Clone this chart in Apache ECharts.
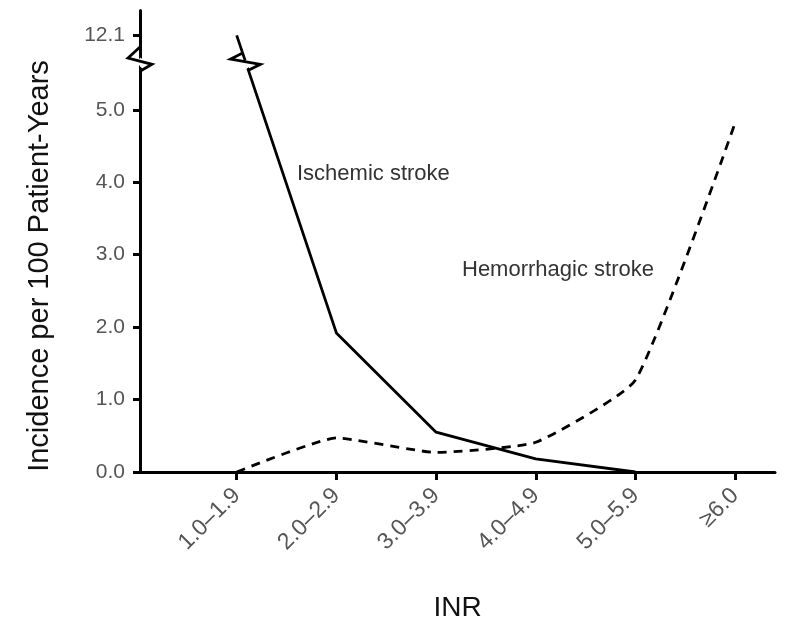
<!DOCTYPE html>
<html>
<head>
<meta charset="utf-8">
<script src="https://cdn.jsdelivr.net/npm/echarts@6/dist/echarts.min.js"></script>
<style>
  html, body { margin: 0; padding: 0; background: #fff; }
  #chart { width: 786px; height: 620px; }
</style>
</head>
<body>
<div id="chart"></div>
<script>
const inrCategories = ['1.0\u20131.9', '2.0\u20132.9', '3.0\u20133.9', '4.0\u20134.9', '5.0\u20135.9', '\u22656.0'];
const ischemic = [12.1, 1.92, 0.55, 0.18, 0];
const hemorrhagic = [0, 0.47, 0.27, 0.41, 1.27, 4.82];
const yTicks = [0, 1, 2, 3, 4, 5, 12.1];
const xTicks = [1, 2, 3, 4, 5, 6];
const yBreak = { start: 5.6, end: 11.8 };

const font = 'Liberation Sans, Arial, sans-serif';

function toPoints(arr) {
    return arr.map((v, i) => [i + 1, v]);
}

const myChart = echarts.init(document.getElementById('chart'));
const option = {
    backgroundColor: '#fff',
    animation: false,
    grid: { left: 140, right: 11, top: 10, bottom: 148, outerBoundsMode: 'none', containLabel: false },
    xAxis: {
        type: 'value',
        min: 0.03,
        max: 6.4,
        splitLine: { show: false },
        axisLine: { lineStyle: { color: '#000', width: 3 } },
        axisTick: { length: 8, lineStyle: { color: '#000', width: 3 }, customValues: xTicks },
        axisLabel: {
            customValues: xTicks,
            rotate: 45,
            margin: 20,
            color: '#555',
            fontSize: 23,
            fontFamily: font,
            formatter: (v) => inrCategories[Math.round(v) - 1] || ''
        },
        name: 'INR',
        nameLocation: 'middle',
        nameGap: 122,
        nameTextStyle: { color: '#111', fontSize: 28, fontFamily: font }
    },
    yAxis: {
        type: 'value',
        min: 0,
        max: 12.45,
        breaks: [{ start: yBreak.start, end: yBreak.end, gap: '2%' }],
        breakArea: {
            show: true,
            itemStyle: { color: '#fff', borderColor: 'transparent', opacity: 1 }
        },
        splitLine: { show: false },
        axisLine: { lineStyle: { color: '#000', width: 3 } },
        axisTick: { length: 7, lineStyle: { color: '#000', width: 3 }, customValues: yTicks },
        axisLabel: {
            customValues: yTicks,
            color: '#555',
            fontSize: 21,
            fontFamily: font,
            margin: 15,
            formatter: (v) => v.toFixed(1)
        },
        name: 'Incidence per 100 Patient-Years',
        nameLocation: 'middle',
        nameGap: 86,
        nameTextStyle: { color: '#111', fontSize: 29, fontFamily: font, padding: [0, 50, 0, 0] }
    },
    series: [
        {
            name: 'Ischemic stroke',
            type: 'line',
            data: toPoints(ischemic),
            symbol: 'none',
            lineStyle: { color: '#000', width: 2.8, type: 'solid' }
        },
        {
            name: 'Hemorrhagic stroke',
            type: 'line',
            data: toPoints(hemorrhagic),
            symbol: 'none',
            smooth: 0.15,
            lineStyle: { color: '#000', width: 2.8, type: [9, 7] }
        }
    ]
};
myChart.setOption(option);

// zigzag break marks on the y axis and on the ischemic line
const breakTop = myChart.convertToPixel({ yAxisIndex: 0 }, yBreak.end);
const breakBot = myChart.convertToPixel({ yAxisIndex: 0 }, yBreak.start);
const axisX = myChart.convertToPixel({ xAxisIndex: 0 }, 0.03);
const p1 = myChart.convertToPixel({ xAxisIndex: 0, yAxisIndex: 0 }, [1, ischemic[0]]);
const p2 = myChart.convertToPixel({ xAxisIndex: 0, yAxisIndex: 0 }, [2, ischemic[1]]);
const xAt = (y) => p1[0] + (p2[0] - p1[0]) * (y - p1[1]) / (p2[1] - p1[1]);
const lt = [xAt(breakTop - 4), breakTop - 4];
const lb = [xAt(breakBot + 4), breakBot + 4];
const zig = { stroke: '#000', lineWidth: 2.8, fill: null };

myChart.setOption({
    graphic: [
        {
            type: 'polyline', z: 100,
            shape: { points: [[axisX, breakTop - 10], [axisX - 12, breakTop + 1], [axisX + 12, breakBot - 2], [axisX, breakBot + 5]] },
            style: zig
        },
        {
            type: 'polyline', z: 100,
            shape: { points: [lt, [lt[0] - 12, lt[1] + 6], [lb[0] + 12, lb[1] - 6], lb] },
            style: zig
        },
        { type: 'text', left: 297, top: 163, style: { text: 'Ischemic stroke', fontSize: 22, fontFamily: font, fill: '#333' } },
        { type: 'text', left: 462, top: 259, style: { text: 'Hemorrhagic stroke', fontSize: 22, fontFamily: font, fill: '#333' } }
    ]
});
</script>
</body>
</html>
